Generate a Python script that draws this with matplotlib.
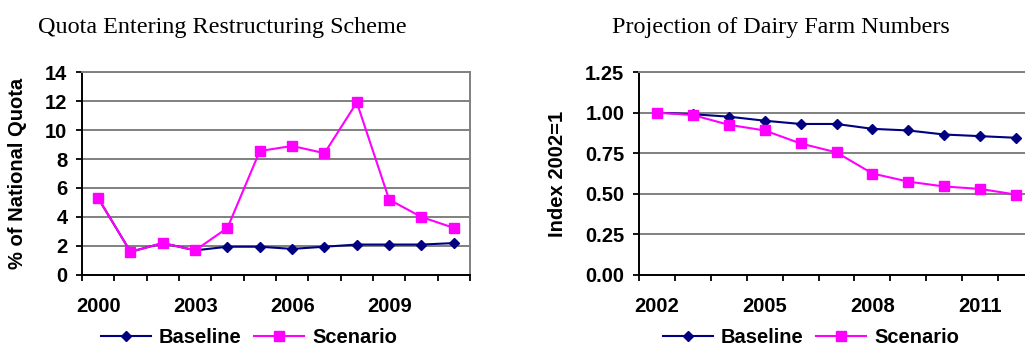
import numpy as np
import matplotlib.pyplot as plt

# left chart: quota entering restructuring scheme (% of national quota)
quota_years = ["2000", "2001", "2002", "2003", "2004", "2005",
               "2006", "2007", "2008", "2009", "2010", "2011"]
quota_baseline = [5.3, 1.6, 2.2, 1.7, 1.95, 1.95, 1.8, 1.95, 2.1, 2.1, 2.1, 2.2]
quota_scenario = [5.3, 1.6, 2.2, 1.7, 3.25, 8.55, 8.9, 8.4, 11.9, 5.2, 4.0, 3.25]

# right chart: dairy farm numbers index (2002 = 1)
farm_years = ["2002", "2003", "2004", "2005", "2006", "2007",
              "2008", "2009", "2010", "2011", "2012"]
farm_baseline = [1.0, 0.99, 0.975, 0.95, 0.93, 0.93, 0.90, 0.89, 0.865, 0.855, 0.845]
farm_scenario = [1.0, 0.985, 0.925, 0.89, 0.81, 0.755, 0.625, 0.575, 0.545, 0.53, 0.495]

FS = 14.5
BOLD = dict(family="Liberation Sans", weight="bold")
NAVY = "#000080"
MAGENTA = "#FF00FF"
GRID = "#808080"


def category_chart(ax, years, base, scen, ylim, yticks, yfmt, ylabel, legend_x, label_every=3):
    n = len(years)
    x = np.arange(n)
    ax.plot(x, base, color=NAVY, lw=1.5, marker="D", ms=5, label="Baseline", zorder=3)
    ax.plot(x, scen, color=MAGENTA, lw=1.5, marker="s", ms=7, label="Scenario", zorder=4)

    ax.set_xlim(-0.5, n - 0.5)
    ax.set_ylim(*ylim)
    ax.set_yticks(yticks)
    ax.set_yticklabels([yfmt.format(v) for v in yticks], fontdict=BOLD, fontsize=FS)

    # excel style category axis: ticks between categories, labels on every third
    ax.set_xticks(np.arange(n + 1) - 0.5)
    ax.set_xticklabels([])
    ax.set_xticks(x[::label_every], minor=True)
    ax.set_xticklabels([years[i] for i in x[::label_every]], minor=True,
                       fontdict=BOLD, fontsize=FS)
    ax.tick_params(axis="x", which="major", direction="out", length=4.5, width=1.3)
    ax.tick_params(axis="x", which="minor", length=0, pad=15.5)
    ax.tick_params(axis="y", direction="out", length=4.5, width=1.3, pad=6)

    ax.yaxis.grid(True, color=GRID, lw=1.4)
    ax.set_axisbelow(True)
    for side in ("left", "bottom"):
        ax.spines[side].set_color("black")
        ax.spines[side].set_linewidth(1.4)
    for side in ("top", "right"):
        ax.spines[side].set_color(GRID)
        ax.spines[side].set_linewidth(1.4)

    ax.set_ylabel(ylabel, fontdict=BOLD, fontsize=FS)
    ax.legend(loc="center", bbox_to_anchor=(legend_x, -0.31), ncol=2, frameon=False,
              prop=dict(family="Liberation Sans", weight="bold", size=FS),
              handlelength=2.5, handletextpad=0.4, columnspacing=0.6)


fig = plt.figure(figsize=(10.25, 3.47), dpi=100)

ax1 = fig.add_axes([0.080, 0.2075, 0.3785, 0.585])
category_chart(ax1, quota_years, quota_baseline, quota_scenario,
               (0, 14), np.arange(0, 15, 2), "{:.0f}", "% of National Quota", 0.43)
ax1.yaxis.set_label_coords(-0.142, 0.5)

ax2 = fig.add_axes([0.6234, 0.2075, 0.3854, 0.585])
category_chart(ax2, farm_years, farm_baseline, farm_scenario,
               (0, 1.25), np.arange(0, 1.26, 0.25), "{:.2f}", "Index 2002=1", 0.435)
ax2.yaxis.set_label_coords(-0.182, 0.5)

fig.text(0.037, 0.922, "Quota Entering Restructuring Scheme",
         family="Liberation Serif", fontsize=17.4, va="center")
fig.text(0.597, 0.922, "Projection of Dairy Farm Numbers",
         family="Liberation Serif", fontsize=17.4, va="center")

fig.savefig("out.png", dpi=100)
